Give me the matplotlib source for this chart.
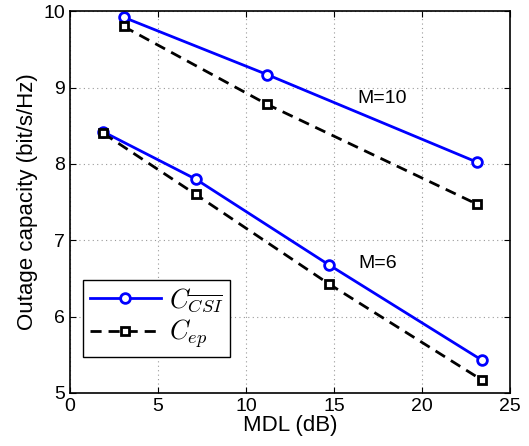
import numpy as np
import matplotlib
matplotlib.use("Agg")
import matplotlib.pyplot as plt

plt.rcParams['font.family'] = ['Liberation Sans', 'DejaVu Sans']
plt.rcParams['mathtext.fontset'] = 'cm'

# M=10
mdl10 = [3.05, 11.2, 23.15]
csi10 = [9.92, 9.17, 8.02]
ep10 = [9.80, 8.78, 7.47]
# M=6
mdl6 = [1.9, 7.15, 14.7, 23.4]
csi6 = [8.42, 7.80, 6.68, 5.43]
ep6 = [8.40, 7.60, 6.43, 5.17]

fig = plt.figure(figsize=(5.29, 4.46), dpi=100)
ax = fig.add_axes([0.132, 0.119, 0.832, 0.856])

csi_style = dict(color='#0000ff', lw=2, marker='o', ms=7, mfc='white', mec='#0000ff', mew=2)
ep_style = dict(color='black', lw=2, ls=(0, (4, 2.5)), marker='s', ms=6, mfc='white', mec='black', mew=2)

ax.plot(mdl10, csi10, label=r'$C_{\overline{CSI}}$', **csi_style)
ax.plot(mdl10, ep10, label=r'$C_{ep}$', **ep_style)
ax.plot(mdl6, csi6, **csi_style)
ax.plot(mdl6, ep6, **ep_style)

ax.text(16.35, 8.80, 'M=10', fontsize=14)
ax.text(16.4, 6.64, 'M=6', fontsize=14)

ax.set_xlim(0, 25)
ax.set_ylim(5, 10)
ax.set_xticks([0, 5, 10, 15, 20, 25])
ax.set_yticks([5, 6, 7, 8, 9, 10])
ax.tick_params(direction='in', labelsize=14, length=4, top=True, right=True)
ax.grid(True, ls=(0, (1, 3)), color='#999999', lw=0.8)
ax.set_axisbelow(True)
for s in ax.spines.values():
    s.set_linewidth(1.2)

ax.set_xlabel('MDL (dB)', fontsize=16, labelpad=0)
ax.set_ylabel('Outage capacity (bit/s/Hz)', fontsize=16, labelpad=4)

leg = ax.legend(loc='lower left', bbox_to_anchor=(0.03, 0.094), borderaxespad=0,
                fontsize=19, fancybox=False, edgecolor='black', framealpha=1,
                handlelength=2.7, borderpad=0.25, labelspacing=0.15, handletextpad=0.3)
leg.get_frame().set_linewidth(1.0)

fig.savefig('out.png', dpi=100)
